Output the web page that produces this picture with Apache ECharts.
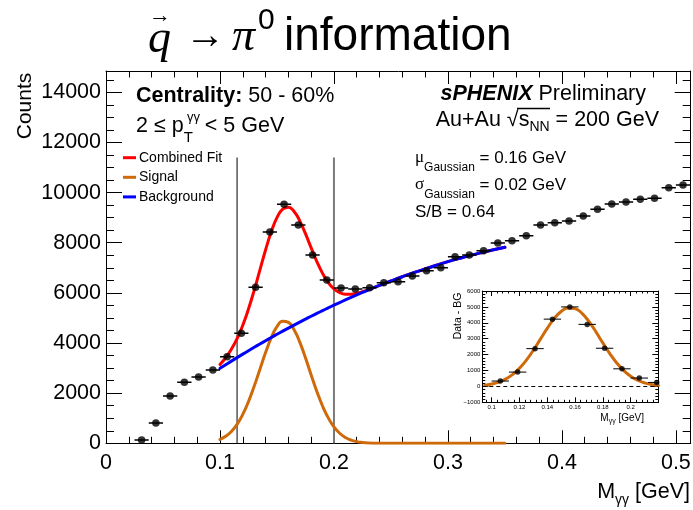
<!DOCTYPE html>
<html>
<head>
<meta charset="utf-8">
<script src="https://cdn.jsdelivr.net/npm/echarts@6/dist/echarts.min.js"></script>
<style>
  html, body { margin: 0; padding: 0; background: #fff; }
  #chart { width: 693px; height: 510px; }
</style>
</head>
<body>
<div id="chart"></div>
<script>
// Diphoton invariant-mass histogram (bin centres and counts)
const massCenters = [0.03125, 0.04375, 0.05625, 0.06875, 0.08125, 0.09375, 0.10625, 0.11875,
  0.13125, 0.14375, 0.15625, 0.16875, 0.18125, 0.19375, 0.20625, 0.21875, 0.23125, 0.24375,
  0.25625, 0.26875, 0.28125, 0.29375, 0.30625, 0.31875, 0.33125, 0.34375, 0.35625, 0.36875,
  0.38125, 0.39375, 0.40625, 0.41875, 0.43125, 0.44375, 0.45625, 0.46875, 0.48125, 0.49375, 0.50625];
const counts = [130, 810, 1887, 2433, 2645, 2924, 3454, 4388, 6223, 8428, 9533, 8708, 7511, 6514,
  6195, 6155, 6207, 6406, 6446, 6673, 6885, 7004, 7443, 7511, 7683, 7990, 8081, 8281, 8708, 8800,
  8867, 9067, 9334, 9545, 9625, 9733, 9773, 10196, 10303];
const binHalfWidth = 0.00625;

// Fit curves sampled along the fit range
const fitMass = [0.100, 0.105, 0.110, 0.115, 0.120, 0.125, 0.130, 0.135, 0.140, 0.145, 0.150,
  0.155, 0.160, 0.165, 0.170, 0.175, 0.180, 0.185, 0.190, 0.195, 0.200, 0.205, 0.210, 0.215,
  0.220, 0.225, 0.230, 0.240, 0.250, 0.260, 0.270, 0.280, 0.290, 0.300, 0.310, 0.320, 0.330,
  0.340, 0.350];
const signalFit = [156, 278, 472, 756, 1152, 1662, 2273, 2946, 3619, 4214, 4651, 4865, 4823,
  4533, 4037, 3408, 2727, 2069, 1487, 1013, 654, 400, 232, 128, 67, 33, 15, 3, 0, 0, 0, 0, 0, 0,
  0, 0, 0, 0, 0];
const backgroundFit = [2990, 3135, 3278, 3418, 3557, 3693, 3828, 3961, 4092, 4221, 4348, 4473,
  4595, 4716, 4836, 4953, 5068, 5181, 5292, 5402, 5509, 5614, 5718, 5819, 5919, 6016, 6112, 6297,
  6474, 6644, 6806, 6960, 7106, 7245, 7375, 7498, 7612, 7719, 7818];
const combinedFit = [3146, 3413, 3750, 4174, 4709, 5355, 6101, 6907, 7711, 8435, 8999, 9338,
  9418, 9249, 8873, 8361, 7795, 7250, 6779, 6415, 6163, 6014, 5950, 5947, 5986, 6049, 6127, 6300,
  6474, 6644, 6806, 6960, 7106, 7245, 7375, 7498, 7612, 7719, 7818];

// Signal window edges
const windowEdges = [0.115, 0.2];
const windowTop = 11400;

// Background-subtracted spectrum (inset)
const insetMass = [0.10625, 0.11875, 0.13125, 0.14375, 0.15625, 0.16875, 0.18125, 0.19375, 0.20625, 0.21875];
const insetExcess = [337, 900, 2375, 4231, 5000, 3900, 2400, 1106, 525, 250];
const insetCurveMass = [0.095, 0.100, 0.105, 0.110, 0.115, 0.120, 0.125, 0.130, 0.135, 0.140,
  0.145, 0.150, 0.155, 0.160, 0.165, 0.170, 0.175, 0.180, 0.185, 0.190, 0.195, 0.200, 0.205,
  0.210, 0.215, 0.220];
const insetCurve = [78, 148, 267, 458, 742, 1138, 1653, 2273, 2960, 3651, 4263, 4713, 4934, 4892,
  4592, 4081, 3434, 2736, 2065, 1475, 998, 639, 388, 223, 121, 62];

// Tick labels
const xTickValues = [0, 0.1, 0.2, 0.3, 0.4, 0.5];
const xTickLabels = ['0', '0.1', '0.2', '0.3', '0.4', '0.5'];
const yTickValues = [0, 2000, 4000, 6000, 8000, 10000, 12000, 14000];
const yTickLabels = ['0', '2000', '4000', '6000', '8000', '10000', '12000', '14000'];
const insetXTickValues = [0.1, 0.12, 0.14, 0.16, 0.18, 0.2];
const insetXTickLabels = ['0.1', '0.12', '0.14', '0.16', '0.18', '0.2'];
const insetYTickValues = [-1000, 0, 1000, 2000, 3000, 4000, 5000, 6000];
const insetYTickLabels = ['\u22121000', '0', '1000', '2000', '3000', '4000', '5000', '6000'];

const SANS = '"Liberation Sans", Arial, Helvetica, sans-serif';
const SERIF = '"Liberation Serif", "Times New Roman", serif';
const RED = '#ff0000', ORANGE = '#cf6a0a', BLUE = '#0000ff';

function labelLookup(values, labels) {
  return function (v) {
    const i = values.findIndex(t => Math.abs(t - v) < 1e-6);
    return i < 0 ? '' : labels[i];
  };
}

// Frame axis: ROOT-style inward ticks, optional labels
function frameAxis(o) {
  return {
    type: 'value', gridIndex: o.grid, position: o.pos, min: o.min, max: o.max,
    interval: o.interval, minInterval: o.minInterval, maxInterval: o.maxInterval,
    axisLine: { show: !!o.line, onZero: false, lineStyle: { color: '#000', width: 1 } },
    axisTick: { show: true, inside: true, length: o.len, lineStyle: { color: '#000', width: 1 } },
    axisLabel: o.labels ? Object.assign({
      show: true, color: '#000', fontFamily: SANS, formatter: o.formatter
    }, o.labels) : { show: false },
    splitLine: { show: false },
    minorTick: { show: false },
    silent: true
  };
}

const xAxes = [
  frameAxis({ grid: 0, pos: 'bottom', min: 0, max: 0.513, interval: 0.1, len: 13, line: true,
    labels: { fontSize: 21.5, margin: 9 }, formatter: labelLookup(xTickValues, xTickLabels) }),
  frameAxis({ grid: 0, pos: 'bottom', min: 0, max: 0.513, interval: 0.02, len: 6.5 }),
  frameAxis({ grid: 0, pos: 'top', min: 0, max: 0.513, interval: 0.1, len: 13, line: true }),
  frameAxis({ grid: 0, pos: 'top', min: 0, max: 0.513, interval: 0.02, len: 6.5 }),
  frameAxis({ grid: 1, pos: 'bottom', min: 0.0933, max: 0.2199, minInterval: 0.02, maxInterval: 0.02,
    len: 5, line: true, labels: { fontSize: 6, margin: 2 },
    formatter: labelLookup(insetXTickValues, insetXTickLabels) }),
  frameAxis({ grid: 1, pos: 'bottom', min: 0.0933, max: 0.2199, minInterval: 0.004, maxInterval: 0.004, len: 2.5 }),
  frameAxis({ grid: 1, pos: 'top', min: 0.0933, max: 0.2199, minInterval: 0.02, maxInterval: 0.02, len: 5, line: true }),
  frameAxis({ grid: 1, pos: 'top', min: 0.0933, max: 0.2199, minInterval: 0.004, maxInterval: 0.004, len: 2.5 })
];
const yAxes = [
  frameAxis({ grid: 0, pos: 'left', min: 0, max: 14850, interval: 2000, len: 16, line: true,
    labels: { fontSize: 21.5, margin: 5 }, formatter: labelLookup(yTickValues, yTickLabels) }),
  frameAxis({ grid: 0, pos: 'left', min: 0, max: 14850, interval: 500, len: 8 }),
  frameAxis({ grid: 0, pos: 'right', min: 0, max: 14850, interval: 2000, len: 16, line: true }),
  frameAxis({ grid: 0, pos: 'right', min: 0, max: 14850, interval: 500, len: 8 }),
  frameAxis({ grid: 1, pos: 'left', min: -1000, max: 6000, interval: 1000, len: 6, line: true,
    labels: { fontSize: 6, margin: 2 }, formatter: labelLookup(insetYTickValues, insetYTickLabels) }),
  frameAxis({ grid: 1, pos: 'left', min: -1000, max: 6000, interval: 200, len: 3 }),
  frameAxis({ grid: 1, pos: 'right', min: -1000, max: 6000, interval: 1000, len: 6, line: true }),
  frameAxis({ grid: 1, pos: 'right', min: -1000, max: 6000, interval: 200, len: 3 })
];

function pairs(xs, ys) { return xs.map((x, i) => [x, ys[i]]); }

function errorBarSeries(xIdx, yIdx, xs, ys, width) {
  return {
    type: 'custom', xAxisIndex: xIdx, yAxisIndex: yIdx, clip: true, silent: true, z: 4,
    data: pairs(xs, ys),
    renderItem: function (params, api) {
      const x = api.value(0), y = api.value(1);
      const a = api.coord([x - binHalfWidth, y]);
      const b = api.coord([x + binHalfWidth, y]);
      return { type: 'line', shape: { x1: a[0], y1: a[1], x2: b[0], y2: b[1] },
               style: { stroke: '#000', lineWidth: width } };
    }
  };
}

function fitLine(name, color, ys, xIdx, yIdx, xs) {
  return {
    name: name, type: 'line', xAxisIndex: xIdx, yAxisIndex: yIdx, data: pairs(xs, ys),
    showSymbol: false, smooth: true, color: color, sampling: null,
    lineStyle: { color: color, width: 3, cap: 'round', join: 'round' },
    itemStyle: { color: color }, z: 3, silent: true
  };
}

function windowLine(x, color, width) {
  return {
    type: 'line', xAxisIndex: 0, yAxisIndex: 0, data: [[x, 0], [x, windowTop]],
    showSymbol: false, lineStyle: { color: color, width: width }, z: 2, silent: true
  };
}

const insetCurveSeries = fitLine('Signal fit', ORANGE, insetCurve, 4, 4, insetCurveMass);
insetCurveSeries.markLine = {
  symbol: 'none', silent: true, label: { show: false }, animation: false,
  lineStyle: { type: [4, 3], color: '#000', width: 1 }, data: [{ yAxis: 0 }]
};

const series = [
  windowLine(windowEdges[0], '#000', 1),
  windowLine(windowEdges[1], '#7a7a7a', 2),
  fitLine('Combined Fit', RED, combinedFit, 0, 0, fitMass),
  fitLine('Signal', ORANGE, signalFit, 0, 0, fitMass),
  fitLine('Background', BLUE, backgroundFit, 0, 0, fitMass),
  errorBarSeries(0, 0, massCenters, counts, 1.5),
  { type: 'scatter', xAxisIndex: 0, yAxisIndex: 0, data: pairs(massCenters, counts),
    symbol: 'circle', symbolSize: 7.5, itemStyle: { color: '#000' }, z: 5, silent: true },
  insetCurveSeries,
  errorBarSeries(4, 4, insetMass, insetExcess, 1),
  { type: 'scatter', xAxisIndex: 4, yAxisIndex: 4, data: pairs(insetMass, insetExcess),
    symbol: 'circle', symbolSize: 5.5, itemStyle: { color: '#000' }, z: 5, silent: true }
];

function txt(text, x, y, font, extra) {
  return { type: 'text', silent: true, z: 10, style: Object.assign({
    text: text, x: x, y: y, font: font, fill: '#000', align: 'left', verticalAlign: 'middle'
  }, extra || {}) };
}

const graphics = [
  // title
  txt('q', 148, 40, 'italic 46px ' + SERIF),
  txt('\u2192', 160, 16, '22px ' + SANS, { align: 'center' }),
  txt('\u2192', 205, 37, '40px ' + SANS, { align: 'center' }),
  txt('\u03c0', 232, 38, 'italic 46px ' + SERIF),
  txt('0', 258, 21, '30px ' + SANS),
  txt('information', 284, 37, '46px ' + SANS),
  // axis titles
  txt('Counts', 25, 106, '21px ' + SANS, { align: 'center' }),
  { type: 'text', silent: true, z: 10, style: {
      text: '{m|M}{s|\u03b3\u03b3}{m| [GeV]}', x: 690, y: 492, align: 'right', verticalAlign: 'middle',
      fill: '#000',
      rich: { m: { fontSize: 21.5, fontFamily: SANS, lineHeight: 31, fill: '#000' },
              s: { fontSize: 14, fontFamily: SANS, lineHeight: 14, verticalAlign: 'bottom', fill: '#000' } } } },
  // labels inside the frame
  { type: 'text', silent: true, z: 10, style: {
      text: '{b|Centrality:}{m| 50 - 60%}', x: 136, y: 96, align: 'left', verticalAlign: 'middle',
      rich: { b: { fontSize: 21.5, fontWeight: 'bold', fontFamily: SANS, fill: '#000' },
              m: { fontSize: 21.5, fontFamily: SANS, fill: '#000' } } } },
  { type: 'text', silent: true, z: 10, style: {
      text: '{m|2 \u2264 p}{s|T}{m|  < 5 GeV}', x: 136, y: 126, align: 'left', verticalAlign: 'middle',
      rich: { m: { fontSize: 21.5, fontFamily: SANS, lineHeight: 39, fill: '#000' },
              s: { fontSize: 15, fontFamily: SANS, lineHeight: 15, verticalAlign: 'bottom', fill: '#000' } } } },
  txt('\u03b3\u03b3', 187, 117, '13px ' + SANS),
  { type: 'text', silent: true, z: 10, style: {
      text: '{b|sPHENIX}{m| Preliminary}', x: 646, y: 94, align: 'right', verticalAlign: 'middle',
      rich: { b: { fontSize: 21.5, fontWeight: 'bold', fontStyle: 'italic', fontFamily: SANS, fill: '#000' },
              m: { fontSize: 21.5, fontFamily: SANS, fill: '#000' } } } },
  { type: 'text', silent: true, z: 10, style: {
      text: '{m|Au+Au \u221as}{s|NN}{m| = 200 GeV}', x: 659, y: 120, align: 'right', verticalAlign: 'middle',
      rich: { m: { fontSize: 21.5, fontFamily: SANS, lineHeight: 29, fill: '#000' },
              s: { fontSize: 14, fontFamily: SANS, lineHeight: 14, verticalAlign: 'bottom', fill: '#000' } } } },
  { type: 'text', silent: true, z: 10, style: {
      text: '{g|\u03bc}{s|Gaussian}{m| = 0.16 GeV}', x: 415, y: 158, align: 'left', verticalAlign: 'middle',
      rich: { g: { fontSize: 17, fontFamily: SERIF, lineHeight: 31, fill: '#000' },
              m: { fontSize: 17, fontFamily: SANS, lineHeight: 31, fill: '#000' },
              s: { fontSize: 12, fontFamily: SANS, lineHeight: 12, verticalAlign: 'bottom', fill: '#000' } } } },
  { type: 'text', silent: true, z: 10, style: {
      text: '{g|\u03c3}{s|Gaussian}{m| = 0.02 GeV}', x: 415, y: 185, align: 'left', verticalAlign: 'middle',
      rich: { g: { fontSize: 17, fontFamily: SERIF, lineHeight: 31, fill: '#000' },
              m: { fontSize: 17, fontFamily: SANS, lineHeight: 31, fill: '#000' },
              s: { fontSize: 12, fontFamily: SANS, lineHeight: 12, verticalAlign: 'bottom', fill: '#000' } } } },
  txt('S/B = 0.64', 415, 212, '17px ' + SANS),
  // inset titles
  txt('Data - BG', 458, 316, '10.5px ' + SANS, { align: 'center' }),
  { type: 'text', silent: true, z: 10, style: {
      text: '{m|M}{s|\u03b3\u03b3}{m| [GeV]}', x: 644, y: 418, align: 'right', verticalAlign: 'middle',
      rich: { m: { fontSize: 10, fontFamily: SANS, lineHeight: 14, fill: '#000' },
              s: { fontSize: 7, fontFamily: SANS, lineHeight: 7, verticalAlign: 'bottom', fill: '#000' } } } },
  // bar of the square-root sign over s_NN
  { type: 'line', silent: true, z: 10, shape: { x1: 517, y1: 108.5, x2: 550, y2: 108.5 },
    style: { stroke: '#000', lineWidth: 1.3 } }
];
// rotate the vertical axis titles
graphics[6].rotation = Math.PI / 2; graphics[6].x = 25; graphics[6].y = 106;
graphics[6].style.x = 0; graphics[6].style.y = 0;
graphics[16].rotation = Math.PI / 2; graphics[16].x = 458; graphics[16].y = 316;
graphics[16].style.x = 0; graphics[16].style.y = 0;

const chart = echarts.init(document.getElementById('chart'), null, { renderer: 'canvas' });
chart.setOption({
  animation: false,
  backgroundColor: '#fff',
  textStyle: { fontFamily: SANS },
  grid: [
    { left: 106, top: 71, width: 584.7, height: 372.3, containLabel: false, outerBoundsMode: 'none' },
    { left: 482.3, top: 291, width: 176, height: 111.3, containLabel: false, outerBoundsMode: 'none' }
  ],
  legend: {
    data: ['Combined Fit', 'Signal', 'Background'], orient: 'vertical', left: 123, top: 150.7,
    itemWidth: 13, itemHeight: 3, itemGap: 5.6, icon: 'rect', padding: 0, selectedMode: false,
    textStyle: { fontSize: 14, fontFamily: SANS, color: '#000', lineHeight: 14, padding: [0, 0, 0, -2] }
  },
  xAxis: xAxes,
  yAxis: yAxes,
  series: series,
  graphic: graphics
});
</script>
</body>
</html>
